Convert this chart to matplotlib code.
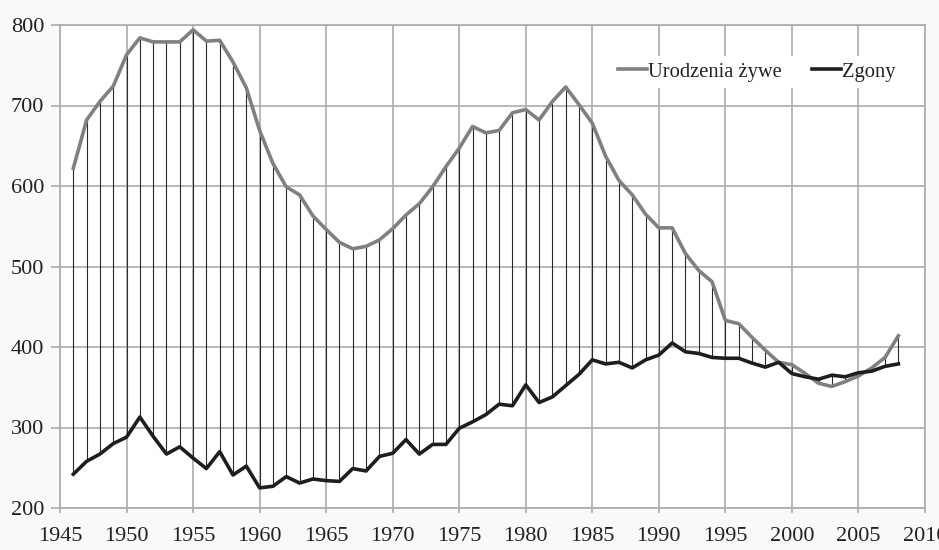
import matplotlib
matplotlib.use("Agg")
import matplotlib.pyplot as plt
import numpy as np

years = list(range(1946, 2009))
births = [622, 682, 705, 724, 763, 784, 779, 779, 779, 794, 780, 781, 754, 722,
          669, 628, 599, 589, 563, 546, 530, 522, 525, 533, 547, 564, 578, 599,
          624, 647, 674, 666, 669, 691, 695, 682, 705, 723, 701, 678, 637, 607,
          589, 565, 548, 548, 516, 495, 481, 433, 429, 412, 396, 381, 378, 367,
          355, 351, 357, 364, 374, 387, 414]
deaths = [242, 258, 267, 280, 288, 313, 289, 267, 276, 262, 249, 270, 241, 252,
          225, 227, 239, 231, 236, 234, 233, 249, 246, 264, 268, 285, 267, 279,
          279, 299, 307, 316, 329, 327, 353, 331, 338, 352, 366, 384, 379, 381,
          374, 384, 390, 405, 394, 392, 387, 386, 386, 380, 375, 381, 367, 363,
          360, 365, 363, 368, 370, 376, 379]
xticks = list(range(1945, 2011, 5))
yticks = [200, 300, 400, 500, 600, 700, 800]
labels = ["Urodzenia żywe", "Zgony"]

plt.rcParams['font.family'] = ['Liberation Serif', 'DejaVu Serif']

fig = plt.figure(figsize=(9.39, 5.50), dpi=100, facecolor='#f9f9f9')
ax = fig.add_axes([60/939, 42/550, 865/939, 483/550])
ax.set_facecolor('white')

grid_c = '#ababab'
ax.vlines(years, deaths, births, color='#2a2a2a', lw=0.8, zorder=2)
ax.plot(years, births, color='#808080', lw=2.6, label=labels[0], zorder=3,
        solid_joinstyle='round')
ax.plot(years, deaths, color='#1e1e1e', lw=2.6, label=labels[1], zorder=4,
        solid_joinstyle='round')

ax.set_xlim(1945, 2010)
ax.set_ylim(200, 800)
ax.set_xticks(xticks)
ax.set_yticks(yticks)
ax.grid(True, color=grid_c, lw=1.2, zorder=0)
ax.set_axisbelow(True)
for s in ax.spines.values():
    s.set_color(grid_c)
    s.set_linewidth(1.2)
ax.tick_params(axis='x', length=3.6, color=grid_c, width=1.2, labelsize=16,
               pad=10, labelcolor='#222222')
ax.tick_params(axis='y', length=6.5, color=grid_c, width=1.2, labelsize=16,
               pad=5, labelcolor='#222222')

leg = ax.legend(loc='upper right', bbox_to_anchor=(0.985, 0.957), ncol=2,
                frameon=True, fancybox=False, edgecolor='none',
                facecolor='white', framealpha=1, fontsize=14.8,
                handlelength=1.4, handletextpad=0.05, columnspacing=1.5,
                borderpad=0.3)
for t in leg.get_texts():
    t.set_color('#222222')

fig.savefig('out.png', dpi=100, facecolor=fig.get_facecolor())
